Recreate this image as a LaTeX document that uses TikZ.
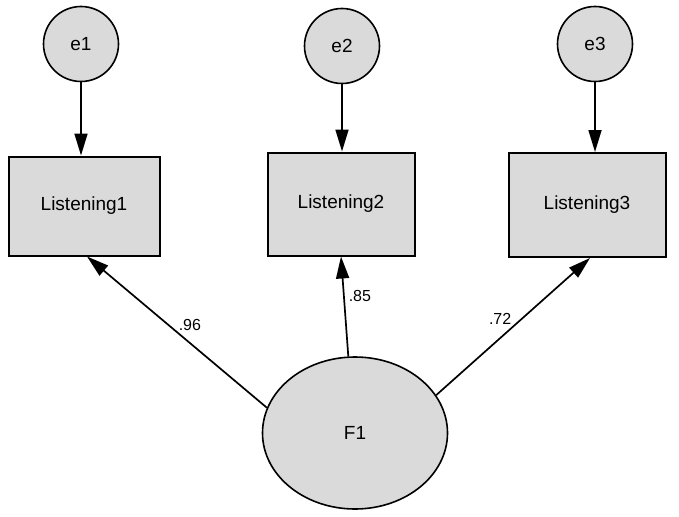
\documentclass[tikz,border=0pt]{standalone}
\usepackage{fontspec}
\setmainfont{Liberation Sans}
\usetikzlibrary{shapes.geometric,arrows.meta}
\definecolor{nodefill}{RGB}{218,218,218}
\begin{document}
\begin{tikzpicture}[x=1pt, y=-1pt,
		>={Triangle[length=22pt, width=13pt]},
		errvar/.style={circle, draw, line width=1.6pt, fill=nodefill, minimum size=75pt, inner sep=0pt, font=\fontsize{19}{21}\selectfont},
		indicator/.style={rectangle, draw, line width=2pt, fill=nodefill, minimum width=151pt, minimum height=99pt, font=\fontsize{19}{21}\selectfont},
		factor/.style={ellipse, draw, line width=1.6pt, fill=nodefill, minimum width=185pt, minimum height=152pt, font=\fontsize{19}{21}\selectfont}]
			\useasboundingbox (0,0) rectangle (679,516);

			\node[errvar] (e1) at (81,44) {e1};
			\node[errvar] (e2) at (342,46) {e2};
			\node[errvar] (e3) at (595,44) {e3};

			\node[indicator] (L1) at (84,206) {Listening1};
			\node[indicator, minimum width=147pt, minimum height=103pt] (L2) at (341,204) {Listening2};
			\node[indicator, minimum width=157pt, minimum height=104pt] (L3) at (587,205) {Listening3};

			\node[factor] (F1) at (355,433) {F1};

			\foreach \i in {1,2,3}
				\draw[->, line width=1.7pt] (e\i) -- (e\i |- L\i.north);

			\begin{scope}[line width=1.7pt, every node/.style={font=\fontsize{16}{18}\selectfont, inner sep=1pt}]
				\draw[->] (F1.164) -- ([xshift=3pt]L1.south) node[midway, above right] {.96};
				\draw[->] (F1.95) -- (L2.south) node[pos=0.6, right=3pt] {.85};
				\draw[->] (F1.25) -- ([xshift=3pt]L3.south) node[midway, above left] {.72};
			\end{scope}
		\end{tikzpicture}
\end{document}
